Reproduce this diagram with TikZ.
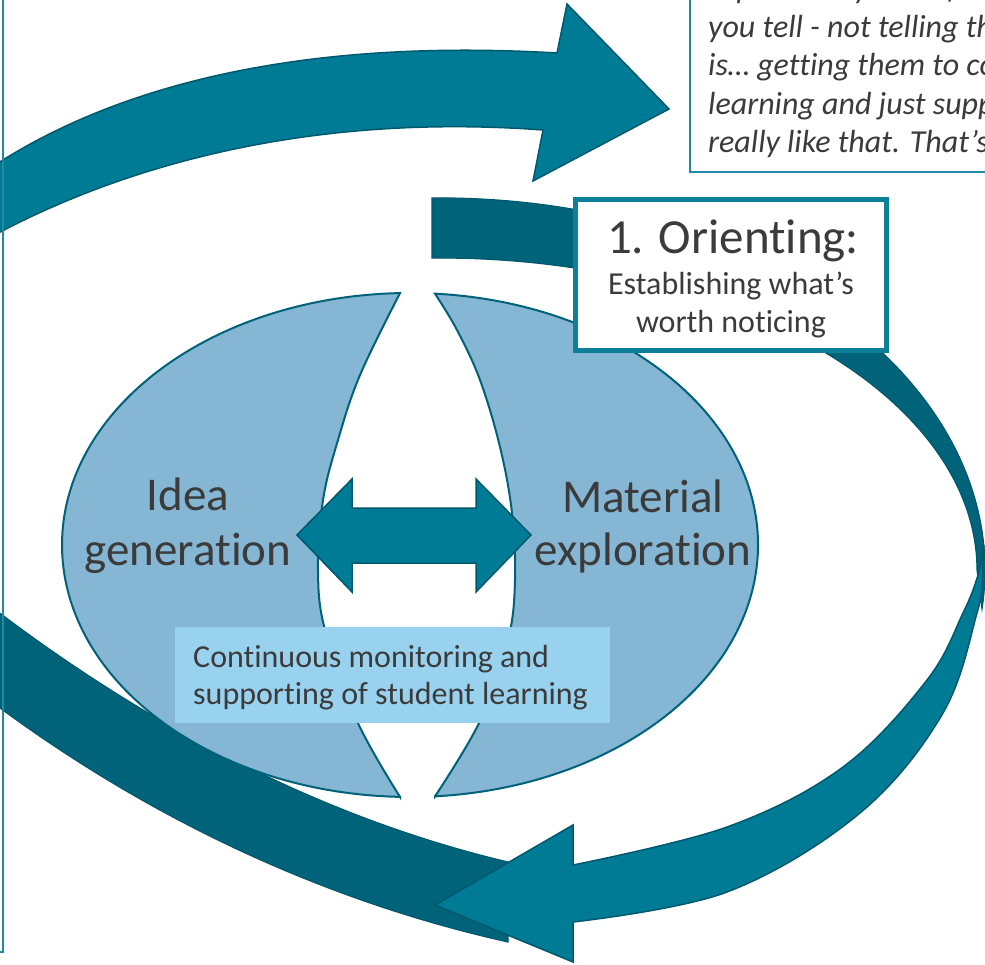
\documentclass[tikz,border=0pt]{standalone}
\usepackage{fontspec}
\setmainfont{Carlito}[Ligatures=TeX, RawFeature={-liga;-clig;-calt;-dlig}]
\definecolor{bandL}{RGB}{0,123,150}
\definecolor{bandD}{RGB}{0,99,122}
\definecolor{bandEdge}{RGB}{0,88,108}
\definecolor{ellFill}{RGB}{133,182,211}
\definecolor{ellEdge}{RGB}{0,98,122}
\definecolor{boxEdge}{RGB}{14,127,153}
\definecolor{thinEdge}{RGB}{31,138,163}
\definecolor{contFill}{RGB}{153,210,239}
\definecolor{txtgray}{RGB}{59,59,59}
\tikzset{
  lightband/.style={fill=bandL, draw=bandEdge, line width=1.5pt, line join=miter},
  darkband/.style={fill=bandD, draw=bandEdge, line width=1.2pt, line join=miter},
  ellpiece/.style={fill=ellFill, draw=ellEdge, line width=2pt, line join=miter},
  txt/.style={text=txtgray, inner sep=0pt, anchor=base},
  txtw/.style={text=txtgray, inner sep=0pt, anchor=base west},
  bigfont/.style={font=\fontsize{47}{56}\selectfont},
  headfont/.style={font=\fontsize{49}{58}\selectfont},
  smallfont/.style={font=\fontsize{32}{38}\selectfont},
  quotefont/.style={font=\fontsize{32}{38}\selectfont\itshape},
}
\begin{document}
\begin{tikzpicture}[x=1pt,y=-1pt]
\useasboundingbox (0,0) rectangle (985,965);
\clip (0,0) rectangle (985,965);

% top curved arrow
\path[lightband] (-20,175) .. controls (110,85) and (300,38) .. (557,53)
  -- (567,4) -- (669,109) -- (533,181) -- (543,130)
  .. controls (300,112) and (110,170) .. (-20,243) -- cycle;

% dark ring segment (top and right)
\path[darkband] (432,198) arc[start angle=-90.84, end angle=6, x radius=545, y radius=372]
  -- (977,570) arc[start angle=0, end angle=-90.85, x radius=537, y radius=312] -- cycle;

% dark band bottom left
\path[darkband] (-20,598) .. controls (150,730) and (330,820) .. (508,862)
  -- (508,942) .. controls (320,900) and (140,815) .. (-20,693) -- cycle;

% light band bottom right with arrowhead
\path[lightband] (984,545) -- plot[smooth, tension=0.6] coordinates {(984,545) (982,580) (977,613) (943,713) (860,813) (727,892) (573,922)}
  -- (573,962) -- (435,905) -- (573,825) -- (573,865)
  -- plot[smooth, tension=0.6] coordinates {(573,865) (727,827) (843,767) (927,680) (963,613) (978,575) (984,545)} -- cycle;

% ellipse pieces
\path[ellpiece] (400,293.1) arc[start angle=268.35, end angle=91.65, x radius=348, y radius=252]
  -- plot[smooth, tension=0.6] coordinates {(400,796.9) (357,721) (325,630) (318,570) (323,500) (338,440) (360,375) (400,293.1)} -- cycle;
\path[ellpiece] (435,293.65) arc[start angle=-85.88, end angle=85.88, x radius=348, y radius=252]
  -- plot[smooth, tension=0.6] coordinates {(435,796.35) (480,721) (508,640) (515,580) (512,513) (500,447) (480,380) (457,330) (435,293.65)} -- cycle;

% double arrow
\path[lightband] (297,535) -- (352,479) -- (352,508) -- (476,508) -- (476,479) -- (531,535)
  -- (476,592) -- (476,563) -- (352,563) -- (352,592) -- cycle;

\node[txt, bigfont] (idea) at (188,510) {Idea};
\node[txt, bigfont] (gen) at (188,565) {generation};
\node[txt, bigfont] (mat) at (643,512) {Material};
\node[txt, bigfont] (expl) at (643,565) {exploration};

% continuous monitoring box
\fill[contFill] (175,627) rectangle (610,723);
\node[txtw, smallfont] (cont1) at (193,667) {Continuous monitoring and};
\node[txtw, smallfont] (cont2) at (193,704) {supporting of student learning};

% orienting box
\draw[boxEdge, line width=5pt, fill=white] (575.5,199.5) rectangle (886.5,350.5);
\node[txt, headfont] (orient) at (733,254) {1. Orienting:};
\node[txt, smallfont] (est) at (731,295) {Establishing what’s};
\node[txt, smallfont] (worth) at (731,333) {worth noticing};

% quote box (top right)
\draw[thinEdge, line width=2.5pt, fill=white] (690,-60) rectangle (1100,172);
\node[txtw, quotefont] (q0) at (708,-1) {experience yourself and};
\node[txtw, quotefont] (q1) at (708,37.5) {you tell - not telling th};
\node[txtw, quotefont] (q2) at (708,76) {is… getting them to co};
\node[txtw, quotefont] (q3) at (708,114.5) {learning and just supp};
\node[txtw, quotefont] (q4) at (708,153) {really like that. That's};

% left box edge
\draw[thinEdge, line width=2.5pt] (-60,-60) rectangle (3,952);
\end{tikzpicture}
\end{document}
